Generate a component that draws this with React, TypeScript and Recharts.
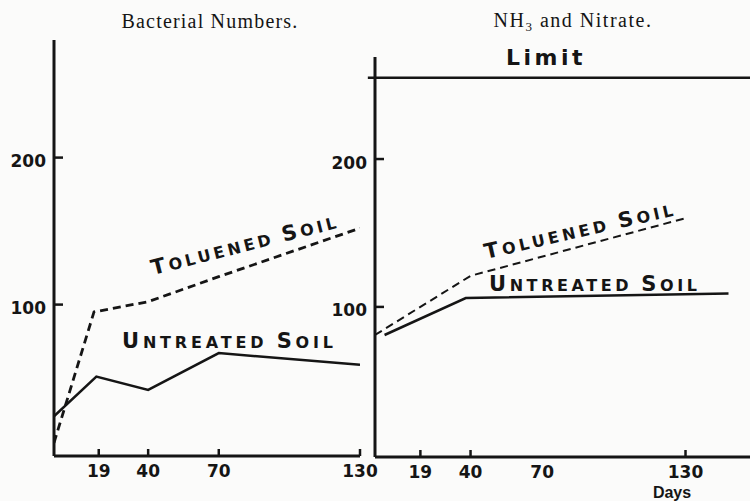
import { LineChart, Line, XAxis, YAxis, ReferenceLine } from 'recharts';

// days after treatment
const leftXTicks = [19, 40, 70, 130];
const rightXTicks = [19, 40, 70, 130];
const rightMarkedTicks = [19, 40, 130];
const yTicks = [100, 200];

// Bacterial Numbers
const bactToluenedDays = [0, 17, 40, 70, 130];
const bactToluenedValues = [6, 95, 102, 119, 152];
const bactUntreatedDays = [0, 18, 40, 70, 130];
const bactUntreatedValues = [24, 51, 42, 67, 59];

// NH3 and Nitrate
const nitToluenedDays = [0, 40, 130];
const nitToluenedValues = [81, 121, 160];
const nitUntreatedDays = [4, 38, 148];
const nitUntreatedValues = [81, 106, 109];
const limitValue = 255;

const INK = '#151515';
const DIGITS = '"DejaVu Sans", sans-serif';
const CAPS = '"DejaVu Sans", sans-serif';
const SERIF = '"Liberation Serif", "Times New Roman", serif';

function zip(days: number[], values: number[]) {
  return days.map((day, i) => ({ day, value: values[i] }));
}

function YTick({ x, y, payload }: any) {
  return (
    <g>
      <line x1={x} x2={x + 9} y1={y} y2={y} stroke={INK} strokeWidth={2.5} />
      <text x={x - 8} y={y + 9.5} textAnchor="end" fill={INK} fontFamily={DIGITS} fontWeight="bold" fontSize={17}>
        {payload.value}
      </text>
    </g>
  );
}

function makeXTick(marked: number[]) {
  return function XTick({ x, y, payload }: any) {
    return (
      <g>
        {marked.includes(payload.value) && (
          <line x1={x} x2={x} y1={y} y2={y - 7} stroke={INK} strokeWidth={2.5} />
        )}
        <text x={x} y={y + 21} textAnchor="middle" fill={INK} fontFamily={DIGITS} fontWeight="bold" fontSize={17}>
          {payload.value}
        </text>
      </g>
    );
  };
}

// old-style small caps: big first letters, smaller rest
function SmallCaps({ first, rest, second, rest2 }: { first: string; rest: string; second: string; rest2: string }) {
  return (
    <>
      <tspan fontSize={21}>{first}</tspan>
      <tspan fontSize={16}>{rest} </tspan>
      <tspan fontSize={21}>{second}</tspan>
      <tspan fontSize={16}>{rest2}</tspan>
    </>
  );
}

const axisStyle = { stroke: INK, strokeWidth: 3 };

export default function App() {
  return (
    <div style={{ position: 'absolute', left: 0, top: 0, width: 750, height: 501, background: '#fbfbfa', overflow: 'hidden' }}>
      <div style={{ position: 'absolute', left: 0, top: 0 }}>
        <LineChart width={390} height={501} margin={{ top: 40, right: 30, bottom: 15, left: 14 }}>
          <XAxis
            type="number"
            dataKey="day"
            domain={[0, 130]}
            ticks={leftXTicks}
            allowDataOverflow
            axisLine={axisStyle}
            tickLine={false}
            tickSize={0}
            tickMargin={0}
            height={30}
            tick={makeXTick(leftXTicks)}
          />
          <YAxis
            type="number"
            dataKey="value"
            domain={[-3, 280]}
            ticks={yTicks}
            allowDataOverflow
            axisLine={axisStyle}
            tickLine={false}
            tickSize={0}
            tickMargin={0}
            width={40}
            tick={YTick}
          />
          <Line
            data={zip(bactToluenedDays, bactToluenedValues)}
            dataKey="value"
            stroke={INK}
            strokeWidth={2.8}
            strokeDasharray="8 5"
            dot={false}
            isAnimationActive={false}
          />
          <Line
            data={zip(bactUntreatedDays, bactUntreatedValues)}
            dataKey="value"
            stroke={INK}
            strokeWidth={2.5}
            dot={false}
            isAnimationActive={false}
          />
        </LineChart>
      </div>

      <div style={{ position: 'absolute', left: 300, top: 0 }}>
        <LineChart width={450} height={501} margin={{ top: 57, right: 0, bottom: 14, left: 35 }}>
          <XAxis
            type="number"
            dataKey="day"
            domain={[0, 157]}
            ticks={rightXTicks}
            allowDataOverflow
            axisLine={axisStyle}
            tickLine={false}
            tickSize={0}
            tickMargin={0}
            height={30}
            tick={makeXTick(rightMarkedTicks)}
          />
          <YAxis
            type="number"
            dataKey="value"
            domain={[-1.5, 269]}
            ticks={yTicks}
            allowDataOverflow
            axisLine={axisStyle}
            tickLine={false}
            tickSize={0}
            tickMargin={0}
            width={40}
            tick={YTick}
          />
          <ReferenceLine
            segment={[
              { x: -3, y: limitValue },
              { x: 157, y: limitValue },
            ]}
            ifOverflow="visible"
            stroke={INK}
            strokeWidth={2.5}
          />
          <Line
            data={zip(nitToluenedDays, nitToluenedValues)}
            dataKey="value"
            stroke={INK}
            strokeWidth={2}
            strokeDasharray="8 5"
            dot={false}
            isAnimationActive={false}
          />
          <Line
            data={zip(nitUntreatedDays, nitUntreatedValues)}
            dataKey="value"
            stroke={INK}
            strokeWidth={2.5}
            dot={false}
            isAnimationActive={false}
          />
        </LineChart>
      </div>

      <svg width={750} height={501} style={{ position: 'absolute', left: 0, top: 0, pointerEvents: 'none' }}>
        <text x={210} y={28} textAnchor="middle" fill={INK} fontFamily={SERIF} fontSize={20} letterSpacing={1.2}>
          Bacterial Numbers.
        </text>
        <text x={573} y={27} textAnchor="middle" fill={INK} fontFamily={SERIF} fontSize={20} letterSpacing={1.5}>
          NH<tspan fontSize={13} dy={4}>3</tspan>
          <tspan dy={-4}> and Nitrate.</tspan>
        </text>
        <text x={546} y={65} textAnchor="middle" fill={INK} fontFamily={CAPS} fontWeight="bold" fontSize={22} letterSpacing={3.5}>
          Limit
        </text>
        <text x={672} y={498} textAnchor="middle" fill={INK} fontFamily='"Liberation Sans", Arial, sans-serif' fontWeight="bold" fontSize={16}>
          Days
        </text>

        <text x={122} y={348} fill={INK} fontFamily={CAPS} fontWeight="bold" textLength={211} lengthAdjust="spacing">
          <SmallCaps first="U" rest="NTREATED" second="S" rest2="OIL" />
        </text>
        <text x={489} y={291} fill={INK} fontFamily={CAPS} fontWeight="bold" textLength={208} lengthAdjust="spacing">
          <SmallCaps first="U" rest="NTREATED" second="S" rest2="OIL" />
        </text>
        <text
          x={153}
          y={275}
          transform="rotate(-14.3 153 275)"
          fill={INK}
          fontFamily={CAPS}
          fontWeight="bold"
          textLength={190}
          lengthAdjust="spacing"
        >
          <SmallCaps first="T" rest="OLUENED" second="S" rest2="OIL" />
        </text>
        <text
          x={486}
          y={259}
          transform="rotate(-13 486 259)"
          fill={INK}
          fontFamily={CAPS}
          fontWeight="bold"
          textLength={193}
          lengthAdjust="spacing"
        >
          <SmallCaps first="T" rest="OLUENED" second="S" rest2="OIL" />
        </text>
      </svg>
    </div>
  );
}
